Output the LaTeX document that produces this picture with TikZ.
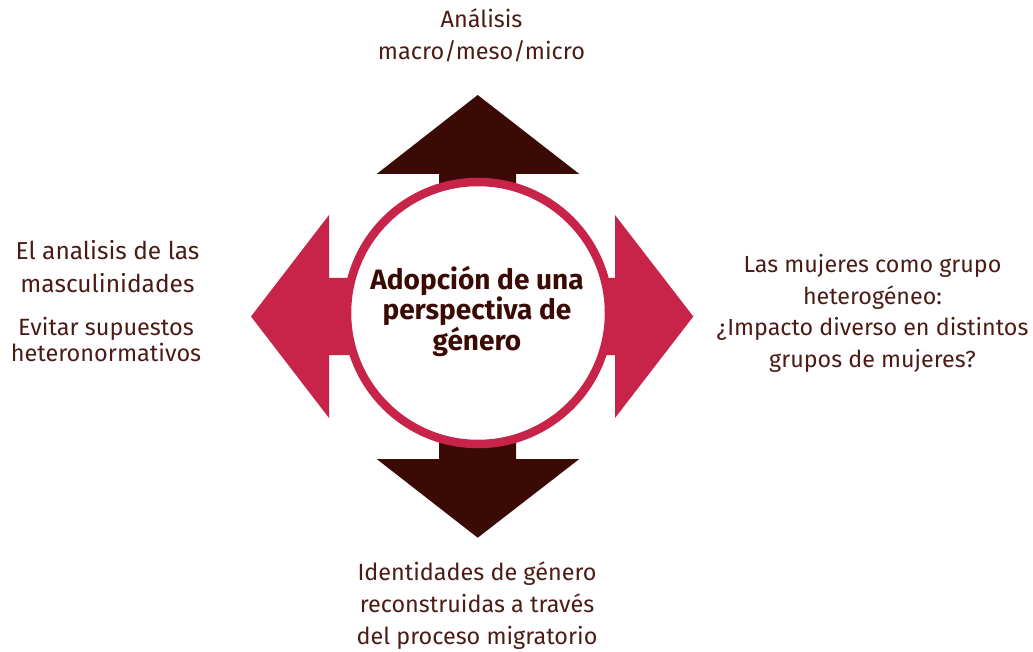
\documentclass[tikz,border=0pt]{standalone}
\usepackage{fontspec}
\setmainfont{Fira Sans}
\definecolor{dkbrown}{RGB}{59,10,5}
\definecolor{crim}{RGB}{200,36,74}
\definecolor{txtc}{RGB}{75,28,22}
\tikzset{
  lbl/.style={text=txtc, align=center, inner sep=0pt, anchor=base},
  ring/.style={draw=crim, line width=8.5pt, fill=white},
}
\begin{document}
\begin{tikzpicture}[x=1pt,y=-1pt]
\useasboundingbox (0,0) rectangle (1033,652);
% vertical arrows
\fill[dkbrown] (477.7,95) -- (579.3,174) -- (516,174) -- (516,459) -- (579.3,459)
  -- (477.7,537.7) -- (376.7,459) -- (439,459) -- (439,174) -- (376.7,174) -- cycle;
% horizontal arrows
\fill[crim] (251,316.5) -- (329,215) -- (329,278) -- (615,278) -- (615,215)
  -- (693.3,316.5) -- (615,418) -- (615,355) -- (329,355) -- (329,418) -- cycle;
% circle
\draw[ring] (478,313) circle[radius=131];
\node[lbl, text=dkbrown, font=\fontsize{28}{28.5}\selectfont\bfseries] (center) at (477,350)
  {Adopción de una\\perspectiva de\\género};
\node[lbl, font=\fontsize{23.5}{32}\selectfont] (top) at (481.5,60)
  {Análisis\\macro/meso/micro};
\node[lbl, font=\fontsize{24.5}{33}\selectfont] (left1) at (107.5,293)
  {El analisis de las\\masculinidades};
\node[lbl, font=\fontsize{23.5}{26}\selectfont] (left2) at (106,361)
  {Evitar supuestos\\heteronormativos};
\node[lbl, font=\fontsize{23.3}{31.5}\selectfont] (right) at (872.5,367)
  {Las mujeres como grupo\\heterogéneo:\\¿Impacto diverso en distintos\\grupos de mujeres?};
\node[lbl, font=\fontsize{23.4}{32}\selectfont] (bottom) at (477,644)
  {Identidades de género\\reconstruidas a través\\del proceso migratorio};
\end{tikzpicture}
\end{document}
